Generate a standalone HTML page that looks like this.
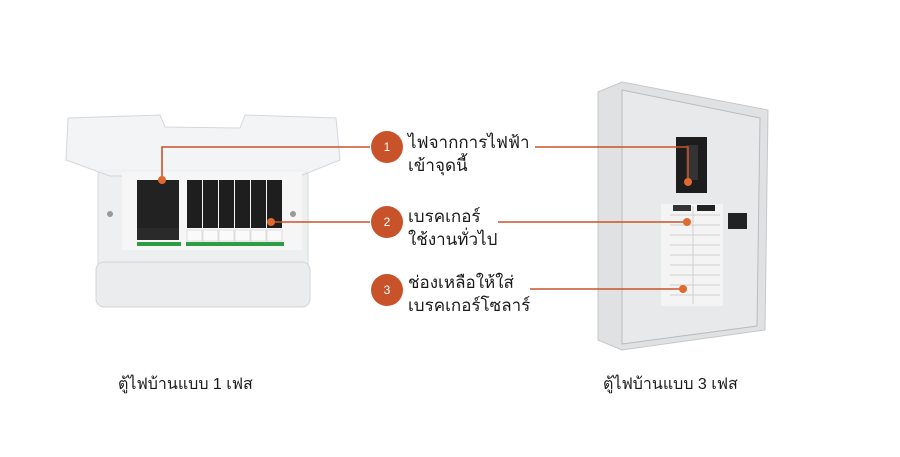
<!DOCTYPE html>
<html><head><meta charset="utf-8"><style>
body{margin:0;width:900px;height:457px;background:#fff;overflow:hidden;font-family:"Liberation Sans","Noto Sans CJK SC",sans-serif}
.t{position:absolute;font-size:17px;line-height:23px;color:#1a1a1a;font-family:"Liberation Sans","Noto Sans CJK SC","WenQuanYi Zen Hei",sans-serif}
</style></head><body>
<svg width="900" height="457" style="position:absolute;left:0;top:0">
<!-- left panel -->
<rect x="98" y="170" width="210" height="135" rx="6" fill="#eeeff0" stroke="#d6d8db"/>
<rect x="96" y="262" width="214" height="45" rx="8" fill="#ebeced" stroke="#d2d4d7"/>
<polygon points="68,118 160,115 165,127 240,128 245,115 336,118 340,160 300,176 110,176 66,160" fill="#f1f3f5" stroke="#cfd4d9" opacity="0.9"/>
<rect x="122" y="172" width="180" height="78" fill="#f6f6f6"/>
<rect x="137" y="180" width="42" height="48" fill="#222"/>
<rect x="137" y="228" width="42" height="12" fill="#2a2a2a"/>
<g fill="#1e1e1e">
<rect x="187" y="180" width="15" height="48"/><rect x="203" y="180" width="15" height="48"/><rect x="219" y="180" width="15" height="48"/><rect x="235" y="180" width="15" height="48"/><rect x="251" y="180" width="15" height="48"/><rect x="267" y="180" width="15" height="48"/>
</g>
<g fill="#fafafa" stroke="#ddd"><rect x="187" y="230" width="15" height="11"/><rect x="203" y="230" width="15" height="11"/><rect x="219" y="230" width="15" height="11"/><rect x="235" y="230" width="15" height="11"/><rect x="251" y="230" width="15" height="11"/><rect x="267" y="230" width="15" height="11"/></g>
<rect x="186" y="242" width="98" height="4" fill="#2e9b47"/>
<rect x="137" y="242" width="44" height="4" fill="#2e9b47"/>
<circle cx="110" cy="214" r="3" fill="#999"/><circle cx="293" cy="214" r="3" fill="#999"/>
<!-- right panel -->
<polygon points="598,92 622,82 768,110 765,330 622,350 598,340" fill="#dfe1e2" stroke="#c5c8ca"/>
<polygon points="622,90 760,118 757,326 622,344" fill="#e8e9ea" stroke="#b9bcbf"/>
<rect x="676" y="137" width="31" height="56" fill="#1d1d1d"/>
<rect x="686" y="145" width="12" height="35" fill="#333"/>
<rect x="661" y="204" width="62" height="102" fill="#f4f4f4"/>
<g stroke="#cfcfcf"><line x1="670" y1="215" x2="720" y2="215"/><line x1="670" y1="225" x2="720" y2="225"/><line x1="670" y1="235" x2="720" y2="235"/><line x1="670" y1="245" x2="720" y2="245"/><line x1="670" y1="255" x2="720" y2="255"/><line x1="670" y1="265" x2="720" y2="265"/><line x1="670" y1="275" x2="720" y2="275"/><line x1="670" y1="285" x2="720" y2="285"/><line x1="670" y1="295" x2="720" y2="295"/><line x1="693" y1="206" x2="693" y2="304"/></g>
<rect x="673" y="205" width="18" height="6" fill="#333"/><rect x="697" y="205" width="18" height="6" fill="#222"/>
<rect x="728" y="213" width="19" height="16" fill="#222"/>
<!-- connectors -->
<g stroke="#c8532a" stroke-width="1.6" fill="none">
<polyline points="370,147 162,147 162,180"/>
<polyline points="535,147 688,147 688,182"/>
<line x1="270" y1="222" x2="370" y2="222"/>
<line x1="498" y1="222" x2="687" y2="222"/>
<line x1="530" y1="289" x2="683" y2="289"/>
</g>
<g fill="#e06a2e"><circle cx="162" cy="180" r="4"/><circle cx="688" cy="182" r="4"/><circle cx="271" cy="222" r="4"/><circle cx="687" cy="222" r="4"/><circle cx="683" cy="289" r="4"/></g>
<g fill="#c8532a"><circle cx="387" cy="147" r="16"/><circle cx="387" cy="222" r="16"/><circle cx="387" cy="290" r="16"/></g>
<g fill="#fff" font-size="12" text-anchor="middle" font-family="Liberation Sans,sans-serif"><text x="387" y="151">1</text><text x="387" y="226">2</text><text x="387" y="294">3</text></g>
</svg>
<div class="t" style="left:408px;top:131px">ไฟจากการไฟฟ้า<br>เข้าจุดนี้</div>
<div class="t" style="left:408px;top:205px">เบรคเกอร์<br>ใช้งานทั่วไป</div>
<div class="t" style="left:408px;top:271px">ช่องเหลือให้ใส่<br>เบรคเกอร์โซลาร์</div>
<div class="t" style="left:118px;top:373px;font-size:16px">ตู้ไฟบ้านแบบ 1 เฟส</div>
<div class="t" style="left:603px;top:373px;font-size:16px">ตู้ไฟบ้านแบบ 3 เฟส</div>
</body></html>
